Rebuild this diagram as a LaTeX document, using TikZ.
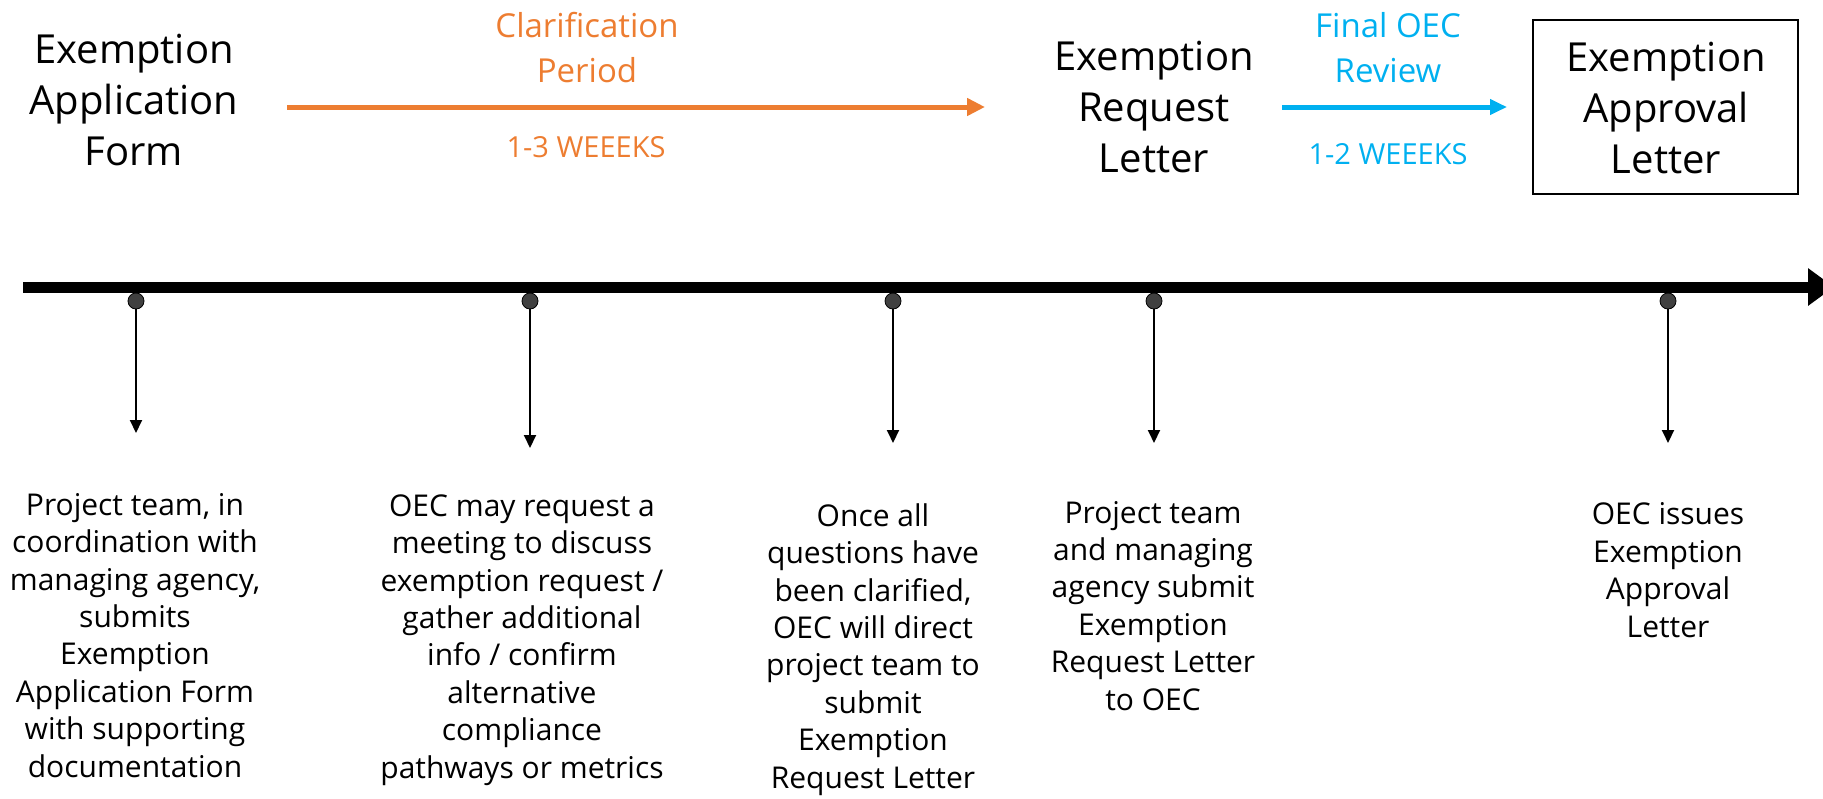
\documentclass[tikz,border=0pt]{standalone}
\usepackage{fontspec}
\setmainfont{Open Sans}
\usetikzlibrary{arrows.meta}
\definecolor{oorange}{HTML}{ED7D31}
\definecolor{oblue}{HTML}{00B0F0}
\definecolor{dotgray}{HTML}{404040}
\tikzset{
  body/.style={anchor=base, inner sep=0pt, align=center, font=\fontsize{30}{37.4}\selectfont},
  title/.style={anchor=base, inner sep=0pt, align=center, font=\fontsize{40}{51}\selectfont},
  period/.style={anchor=base, inner sep=0pt, align=center, font=\fontsize{33}{45}\selectfont},
  weeks/.style={anchor=base, inner sep=0pt, align=center, font=\fontsize{29}{34}\selectfont},
  tdot/.style={circle, draw=black, line width=0.8pt, fill=dotgray, minimum size=16pt, inner sep=0pt},
  drop/.style={line width=2pt, -{Triangle[length=13pt,width=12pt]}},
}
\begin{document}
\begin{tikzpicture}[x=1pt,y=-1pt]
\useasboundingbox (0,0) rectangle (1823,798);

% main timeline
\coordinate (ms) at (23,287);
\coordinate (me) at (1834,287);
\draw[line width=11pt, -{Triangle[length=26pt,width=36pt]}] (ms) -- (me);

% top labels (anchor = baseline of last line)
\node[title] (h1) at (134,165) {Exemption\\Application\\Form};
\node[title] (h2) at (1154,172) {Exemption\\Request\\Letter};
\node[draw=black, line width=2pt, minimum width=265pt, minimum height=174pt, inner sep=0pt] (box) at (1665.5,107) {};
\node[title] (h3) at (1666,173) {Exemption\\Approval\\Letter};

% clarification period
\coordinate (os) at (287,107);
\coordinate (oe) at (985,107);
\draw[oorange, line width=5pt, -{Triangle[length=18pt,width=17pt]}] (os) -- (oe);
\node[period, text=oorange] (p1) at (587,82) {Clarification\\Period};
\node[weeks, text=oorange] (w1) at (586,157) {1-3 WEEEKS};

% final review
\coordinate (bs) at (1282,107);
\coordinate (be) at (1507,107);
\draw[oblue, line width=5pt, -{Triangle[length=17pt,width=15pt]}] (bs) -- (be);
\node[period, text=oblue] (p2) at (1388,82) {Final OEC\\Review};
\node[weeks, text=oblue] (w2) at (1388,164) {1-2 WEEEKS};

% dots and drops
\node[tdot] (d1) at (136,301) {};
\node[tdot] (d2) at (530,301) {};
\node[tdot] (d3) at (893,301) {};
\node[tdot] (d4) at (1154,301) {};
\node[tdot] (d5) at (1668,301) {};
\coordinate (e1) at (136,433);
\coordinate (e2) at (530,448);
\coordinate (e3) at (893,443);
\coordinate (e4) at (1154,443);
\coordinate (e5) at (1668,443);
\draw[drop] (d1.south) -- (e1);
\draw[drop] (d2.south) -- (e2);
\draw[drop] (d3.south) -- (e3);
\draw[drop] (d4.south) -- (e4);
\draw[drop] (d5.south) -- (e5);

% descriptions (anchor = baseline of last line)
\node[body] (t1) at (135,777) {Project team, in\\coordination with\\managing agency,\\submits\\Exemption\\Application Form\\with supporting\\documentation};
\node[body] (t2) at (522,778) {OEC may request a\\meeting to discuss\\exemption request /\\gather additional\\info / confirm\\alternative\\compliance\\pathways or metrics};
\node[body] (t3) at (873,788) {Once all\\questions have\\been clarified,\\OEC will direct\\project team to\\submit\\Exemption\\Request Letter};
\node[body] (t4) at (1153,710) {Project team\\and managing\\agency submit\\Exemption\\Request Letter\\to OEC};
\node[body] (t5) at (1668,637) {OEC issues\\Exemption\\Approval\\Letter};
\end{tikzpicture}
\end{document}
